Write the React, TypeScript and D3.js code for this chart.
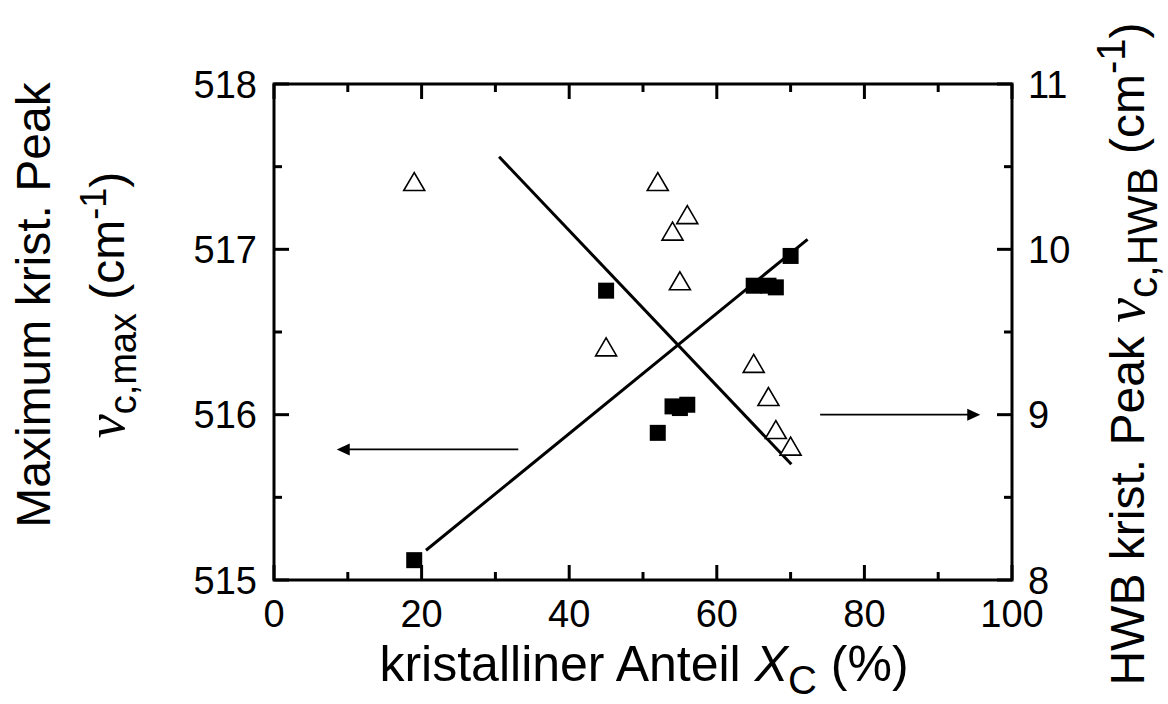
import React from 'react';
import * as d3 from 'd3';

// axis ticks
const xTicks = [0, 20, 40, 60, 80, 100];
const xMinor = [10, 30, 50, 70, 90];
const leftTicks = [515, 516, 517, 518];
const leftMinor = [515.5, 516.5, 517.5];
const rightTicks = [8, 9, 10, 11];
const rightMinor = [8.5, 9.5, 10.5];

// filled squares -> left axis (peak maximum)
const squareX = [19, 45, 52, 54, 55, 56, 65, 67, 68, 70];
const squareY = [515.12, 516.75, 515.89, 516.05, 516.04, 516.06, 516.78, 516.78, 516.77, 516.96];

// open triangles -> right axis (HWB)
const triangleX = [19, 45, 52, 54, 55, 56, 65, 67, 68, 70];
const triangleY = [10.41, 9.41, 10.41, 10.11, 9.81, 10.21, 9.31, 9.11, 8.91, 8.81];

// linear fits (end points)
const fitLeftX = [20.6, 72.3];
const fitLeftY = [515.18, 517.06];
const fitRightX = [30.5, 70.1];
const fitRightY = [10.56, 8.7];

// axis arrows
const arrowLeftX = [33.1, 8.5];
const arrowLeftY = 515.79;
const arrowRightX = [74, 95.7];
const arrowRightY = 9;

const W = 1168;
const H = 704;
const FONT = "'Liberation Sans', Arial, sans-serif";
const SERIF = "'Liberation Serif', 'Times New Roman', serif";

const x = d3.scaleLinear().domain([0, 100]).range([274, 1012]);
const yL = d3.scaleLinear().domain([515, 518]).range([580, 84]);
const yR = d3.scaleLinear().domain([8, 11]).range([580, 84]);

const Chart: React.FC = () => {
  const [x0, x1] = x.range();
  const [yb, yt] = yL.range();

  const fitL = d3.line<number>()
    .x((d) => x(fitLeftX[d]))
    .y((d) => yL(fitLeftY[d]));
  const fitR = d3.line<number>()
    .x((d) => x(fitRightX[d]))
    .y((d) => yR(fitRightY[d]));

  const aly = yL(arrowLeftY);
  const alTip = x(arrowLeftX[1]);
  const ary = yR(arrowRightY);
  const arTip = x(arrowRightX[1]);

  return (
    <svg width={W} height={H} style={{ position: 'absolute', left: 0, top: 0, background: '#fff' }}
      fontFamily={FONT}>
      {/* frame */}
      <rect x={x0} y={yt} width={x1 - x0} height={yb - yt} fill="none" stroke="#000" strokeWidth={3} />

      {/* x ticks, bottom and top */}
      {xTicks.map((t) => (
        <g key={'xt' + t}>
          <line x1={x(t)} x2={x(t)} y1={yb} y2={yb - 15} stroke="#000" strokeWidth={3} />
          <line x1={x(t)} x2={x(t)} y1={yt} y2={yt + 15} stroke="#000" strokeWidth={3} />
          <text x={x(t)} y={627} fontSize={38} textAnchor="middle">{t}</text>
        </g>
      ))}
      {xMinor.map((t) => (
        <g key={'xm' + t}>
          <line x1={x(t)} x2={x(t)} y1={yb} y2={yb - 8} stroke="#000" strokeWidth={3} />
          <line x1={x(t)} x2={x(t)} y1={yt} y2={yt + 8} stroke="#000" strokeWidth={3} />
        </g>
      ))}

      {/* left ticks */}
      {leftTicks.map((t) => (
        <g key={'lt' + t}>
          <line x1={x0} x2={x0 + 15} y1={yL(t)} y2={yL(t)} stroke="#000" strokeWidth={3} />
          <text x={257} y={yL(t) + 13.5} fontSize={38} textAnchor="end">{t}</text>
        </g>
      ))}
      {leftMinor.map((t) => (
        <line key={'lm' + t} x1={x0} x2={x0 + 8} y1={yL(t)} y2={yL(t)} stroke="#000" strokeWidth={3} />
      ))}

      {/* right ticks */}
      {rightTicks.map((t) => (
        <g key={'rt' + t}>
          <line x1={x1} x2={x1 - 15} y1={yR(t)} y2={yR(t)} stroke="#000" strokeWidth={3} />
          <text x={1028} y={yR(t) + 13.5} fontSize={38} textAnchor="start">{t}</text>
        </g>
      ))}
      {rightMinor.map((t) => (
        <line key={'rm' + t} x1={x1} x2={x1 - 8} y1={yR(t)} y2={yR(t)} stroke="#000" strokeWidth={3} />
      ))}

      {/* fits */}
      <path d={fitL([0, 1]) || ''} fill="none" stroke="#000" strokeWidth={3} />
      <path d={fitR([0, 1]) || ''} fill="none" stroke="#000" strokeWidth={3} />

      {/* squares */}
      {squareX.map((v, i) => (
        <rect key={'s' + i} x={x(v) - 8} y={yL(squareY[i]) - 8} width={16} height={16} fill="#000" />
      ))}

      {/* triangles */}
      {triangleX.map((v, i) => {
        const cx = x(v);
        const cy = yR(triangleY[i]);
        return (
          <polygon key={'t' + i}
            points={`${cx},${cy - 9} ${cx - 10.5},${cy + 9} ${cx + 10.5},${cy + 9}`}
            fill="#fff" stroke="#000" strokeWidth={1.6} />
        );
      })}

      {/* arrows */}
      <line x1={x(arrowLeftX[0])} x2={alTip + 10} y1={aly} y2={aly} stroke="#000" strokeWidth={1.6} />
      <polygon points={`${alTip},${aly} ${alTip + 13},${aly - 6} ${alTip + 13},${aly + 6}`} fill="#000" />
      <line x1={x(arrowRightX[0])} x2={arTip - 10} y1={ary} y2={ary} stroke="#000" strokeWidth={1.6} />
      <polygon points={`${arTip},${ary} ${arTip - 13},${ary - 6} ${arTip - 13},${ary + 6}`} fill="#000" />

      {/* x title */}
      <text x={644} y={681} fontSize={50} textAnchor="middle">
        kristalliner Anteil <tspan fontStyle="italic">X</tspan>
        <tspan fontSize={40} dy={13}>C</tspan>
        <tspan dy={-13}> (%)</tspan>
      </text>

      {/* left title */}
      <text transform="translate(50,305) rotate(-90)" fontSize={48} textAnchor="middle">
        Maximum krist. Peak
      </text>
      <text transform="translate(124,305) rotate(-90)" fontSize={48} textAnchor="middle">
        <tspan fontFamily={SERIF} fontStyle="italic" fontSize={54}>ν</tspan>
        <tspan fontSize={38} dy={12}>c,max</tspan>
        <tspan dy={-12}> (cm</tspan>
        <tspan fontSize={36} dy={-18}>-1</tspan>
        <tspan dy={18}>)</tspan>
      </text>

      {/* right title */}
      <text transform="translate(1144,354) rotate(-90)" fontSize={48} textAnchor="middle">
        HWB krist. Peak <tspan fontFamily={SERIF} fontStyle="italic" fontSize={56}>ν</tspan>
        <tspan fontSize={42} dy={13}>c,HWB</tspan>
        <tspan dy={-13}> (cm</tspan>
        <tspan fontSize={40} dy={-19}>-1</tspan>
        <tspan dy={19}>)</tspan>
      </text>
    </svg>
  );
};

export default function App() {
  return <Chart />;
}
